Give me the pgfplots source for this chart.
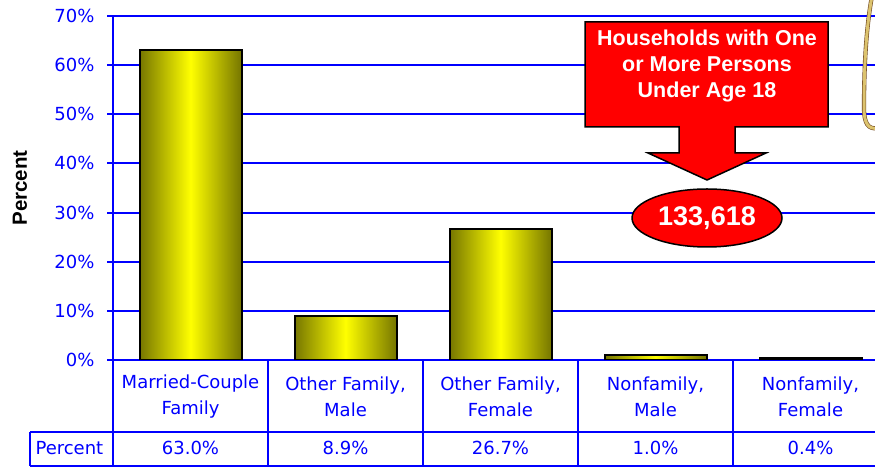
\documentclass[border=0pt]{standalone}
\usepackage{fontspec}
\setmainfont{DejaVu Sans}
\newfontfamily\arial{Liberation Sans}
\usepackage{pgfplots}
\pgfplotsset{compat=1.18}
\definecolor{myblue}{RGB}{0,0,255}
\definecolor{olive1}{RGB}{118,118,0}
\definecolor{yel}{RGB}{255,255,0}
\definecolor{tan1}{RGB}{220,195,110}
\definecolor{myred}{RGB}{255,0,0}
\pgfplotsset{mybar/.style={draw=black, line width=2pt, left color=olive1, right color=olive1, middle color=yel}}
\begin{document}
\begin{tikzpicture}[x=1pt,y=1pt]
\useasboundingbox (0,0) rectangle (875,468);
\clip (0,0) rectangle (875,468);
\begin{axis}[
  at={(113pt,108pt)}, anchor=south west,
  width=762pt, height=344pt, scale only axis,
  xmin=-0.5, xmax=4.416, ymin=0, ymax=70,
  axis lines*=left, axis line style={myblue, line width=2pt, -},
  ytick={0,10,...,70},
  yticklabel={\pgfmathprintnumber{\tick}\%},
  /pgf/number format/assume math mode=true,
  yticklabel style={font=\fontsize{18}{20}\selectfont, text=myblue, xshift=-9pt},
  tick align=outside, major tick length=6pt, ytick style={myblue, line width=2pt},
  ymajorgrids, grid style={myblue, line width=2pt},
  xtick={0,...,4}, xtick style={draw=none},
  xticklabels={{Married-Couple\\Family},{Other Family,\\Male},{Other Family,\\Female},{Nonfamily,\\Male},{Nonfamily,\\Female}},
  xticklabel style={align=center, font=\fontsize{18}{26}\selectfont, text=myblue, anchor=center, yshift=-31pt},
  ybar, bar shift=0pt, bar width=102pt,
]
\addplot[mybar] coordinates {(0,63.0)};
\addplot[mybar] coordinates {(1,8.9)};
\addplot[mybar] coordinates {(2,26.7)};
\addplot[mybar] coordinates {(3,1.0)};
\addplot[mybar] coordinates {(4,0.4)};
\end{axis}
% data table lines
\begin{scope}[myblue, line width=2.2pt]
\draw (30,36) -- (880,36);
\draw (30,2) -- (880,2);
\draw (30,2) -- (30,36);
\draw (113,2) -- (113,108);
\foreach \x in {268,423,578,733} \draw (\x,2) -- (\x,108);
\end{scope}
\begin{scope}[font=\fontsize{18}{22}\selectfont, text=myblue]
\node[anchor=west] at (32,20) {Percent};
\node at (190.5,20) {63.0\%};
\node at (345.5,20) {8.9\%};
\node at (500.5,20) {26.7\%};
\node at (655.5,20) {1.0\%};
\node at (810.5,20) {0.4\%};
\end{scope}
% y label
\node[rotate=90, font=\arial\bfseries\fontsize{20.5}{24}\selectfont] at (20,280) {Percent};
% callout
\draw[fill=myred, draw=black, line width=1.5pt]
  (585,446) -- (828,446) -- (828,341) -- (735,341) -- (735,315) -- (766,315) -- (707,288)
  -- (648,315) -- (679,315) -- (679,341) -- (585,341) -- cycle;
\node[align=center, text=white, font=\arial\bfseries\fontsize{21.5}{26}\selectfont] at (707,402)
  {Households with One\\or More Persons\\Under Age 18};
\draw[fill=myred, draw=black, line width=1.5pt] (707,250) ellipse [x radius=75, y radius=29];
\node[text=white, font=\arial\bfseries\fontsize{27}{30}\selectfont] at (707,250) {133,618};
% decorative shape at top right
\draw[draw=brown!60!black, line width=0.6pt, double=tan1, double distance=3pt]
  (872,472) .. controls (866,440) and (864,400) .. (864,360) .. controls (864,345) and (868,338) .. (878,340);
\end{tikzpicture}
\end{document}
